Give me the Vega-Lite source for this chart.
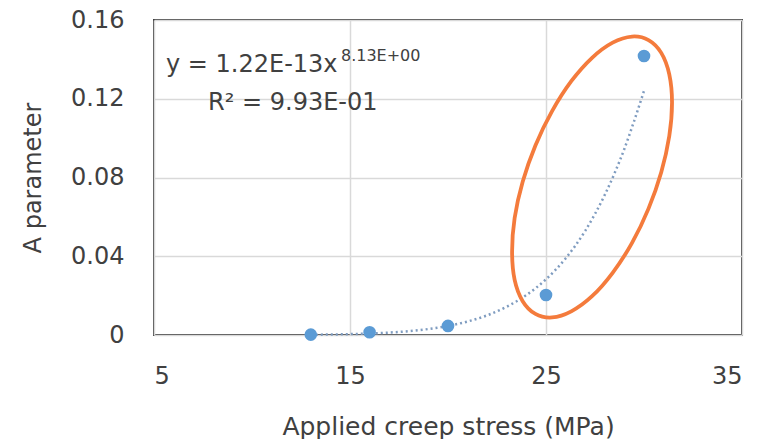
{
  "$schema": "https://vega.github.io/schema/vega-lite/v6.json",
  "width": 588,
  "height": 315,
  "autosize": {"type": "none"},
  "padding": {"left": 154, "top": 20, "right": 24, "bottom": 104},
  "background": "white",
  "config": {
    "view": {"stroke": "#404040", "strokeWidth": 2},
    "font": "DejaVu Sans"
  },
  "datasets": {
    "points": [
      {"stress": 13, "A": 0.0002},
      {"stress": 16, "A": 0.0014},
      {"stress": 20, "A": 0.0046},
      {"stress": 25, "A": 0.0203},
      {"stress": 30, "A": 0.1417}
    ],
    "trend": [
      {"stress": 13, "A": 0.00014},
      {"stress": 14, "A": 0.00025},
      {"stress": 15, "A": 0.00044},
      {"stress": 16, "A": 0.00075},
      {"stress": 17, "A": 0.00123},
      {"stress": 18, "A": 0.00196},
      {"stress": 19, "A": 0.00304},
      {"stress": 20, "A": 0.0046},
      {"stress": 21, "A": 0.00686},
      {"stress": 22, "A": 0.0100},
      {"stress": 23, "A": 0.0144},
      {"stress": 24, "A": 0.0203},
      {"stress": 25, "A": 0.0283},
      {"stress": 26, "A": 0.0389},
      {"stress": 27, "A": 0.0529},
      {"stress": 27.5, "A": 0.0615},
      {"stress": 28, "A": 0.0712},
      {"stress": 28.5, "A": 0.0822},
      {"stress": 29, "A": 0.0946},
      {"stress": 29.5, "A": 0.1088},
      {"stress": 30, "A": 0.124}
    ],
    "ellipse": [
      {"i": 0, "stress": 31.43, "A": 0.1181},
      {"i": 1, "stress": 31.29, "A": 0.1011},
      {"i": 2, "stress": 30.88, "A": 0.0827},
      {"i": 3, "stress": 30.23, "A": 0.0642},
      {"i": 4, "stress": 29.39, "A": 0.0468},
      {"i": 5, "stress": 28.40, "A": 0.0316},
      {"i": 6, "stress": 27.35, "A": 0.0197},
      {"i": 7, "stress": 26.29, "A": 0.0120},
      {"i": 8, "stress": 25.31, "A": 0.0089},
      {"i": 9, "stress": 24.46, "A": 0.0107},
      {"i": 10, "stress": 23.81, "A": 0.0172},
      {"i": 11, "stress": 23.40, "A": 0.0280},
      {"i": 12, "stress": 23.27, "A": 0.0424},
      {"i": 13, "stress": 23.40, "A": 0.0594},
      {"i": 14, "stress": 23.81, "A": 0.0778},
      {"i": 15, "stress": 24.46, "A": 0.0963},
      {"i": 16, "stress": 25.31, "A": 0.1137},
      {"i": 17, "stress": 26.29, "A": 0.1289},
      {"i": 18, "stress": 27.35, "A": 0.1408},
      {"i": 19, "stress": 28.40, "A": 0.1485},
      {"i": 20, "stress": 29.39, "A": 0.1516},
      {"i": 21, "stress": 30.23, "A": 0.1498},
      {"i": 22, "stress": 30.88, "A": 0.1433},
      {"i": 23, "stress": 31.29, "A": 0.1324}
    ],
    "labels": [
      {"stress": 5.61, "A": 0.1371, "label": "y = 1.22E-13x", "size": 24},
      {"stress": 14.54, "A": 0.1415, "label": "8.13E+00", "size": 16},
      {"stress": 7.76, "A": 0.1179, "label": "R² = 9.93E-01", "size": 24}
    ]
  },
  "encoding": {
    "x": {
      "field": "stress", "type": "quantitative",
      "scale": {"domain": [5, 35], "nice": false, "zero": false},
      "axis": {
        "values": [5, 15, 25, 35],
        "title": "Applied creep stress (MPa)",
        "titleFontSize": 25, "titleFontWeight": "normal", "titleColor": "#404040",
        "titlePadding": 26,
        "labelFontSize": 24, "labelColor": "#404040", "labelPadding": 29,
        "ticks": false, "domain": false,
        "gridColor": "#d9d9d9", "gridWidth": 1.5
      }
    },
    "y": {
      "field": "A", "type": "quantitative",
      "scale": {"domain": [0, 0.16], "nice": false},
      "axis": {
        "values": [0, 0.04, 0.08, 0.12, 0.16],
        "format": ".2~f",
        "title": "A parameter",
        "titleFontSize": 24, "titleFontWeight": "normal", "titleColor": "#404040",
        "titlePadding": 25,
        "labelFontSize": 24, "labelColor": "#404040", "labelPadding": 30,
        "ticks": false, "domain": false,
        "gridColor": "#d9d9d9", "gridWidth": 1.5
      }
    }
  },
  "layer": [
    {
      "data": {"name": "trend"},
      "mark": {"type": "line", "color": "#7f9cc0", "strokeWidth": 2.5, "strokeDash": [2, 3], "interpolate": "monotone"}
    },
    {
      "data": {"name": "points"},
      "mark": {"type": "circle", "color": "#5b9bd5", "size": 160, "opacity": 1}
    },
    {
      "data": {"name": "ellipse"},
      "mark": {"type": "line", "color": "#f47b3c", "strokeWidth": 3.8, "interpolate": "cardinal-closed"},
      "encoding": {"order": {"field": "i", "type": "quantitative"}}
    },
    {
      "data": {"name": "labels"},
      "mark": {"type": "text", "align": "left", "baseline": "middle", "color": "#404040"},
      "encoding": {
        "text": {"field": "label"},
        "size": {"field": "size", "type": "quantitative", "scale": null}
      }
    }
  ]
}
